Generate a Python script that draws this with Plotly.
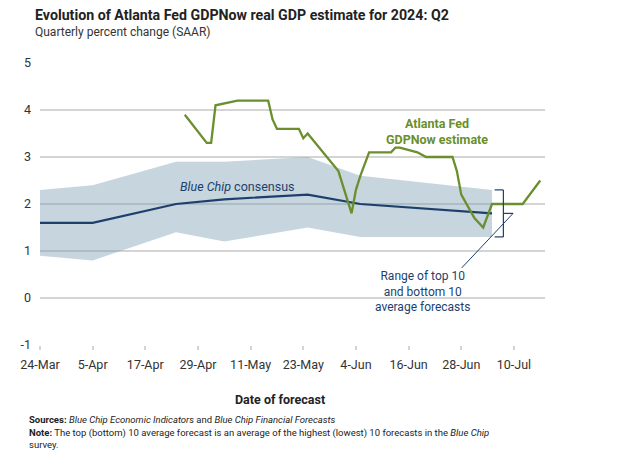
import plotly.graph_objects as go
from datetime import datetime, timedelta

# ---------------- data ----------------
bc_dates = ["2024-03-24", "2024-04-05", "2024-04-24", "2024-05-05",
            "2024-05-24", "2024-06-05", "2024-07-05"]
bc_consensus = [1.6, 1.6, 2.0, 2.1, 2.2, 2.0, 1.8]
bc_top10 = [2.3, 2.4, 2.9, 2.9, 3.0, 2.6, 2.3]
bc_bottom10 = [0.9, 0.8, 1.4, 1.2, 1.5, 1.3, 1.3]

gdpnow_dates = ["2024-04-26", "2024-05-01", "2024-05-02", "2024-05-03",
                "2024-05-08", "2024-05-15", "2024-05-16", "2024-05-17",
                "2024-05-22", "2024-05-23", "2024-05-24", "2024-05-31",
                "2024-06-03", "2024-06-04", "2024-06-05", "2024-06-07",
                "2024-06-12", "2024-06-13", "2024-06-14", "2024-06-18",
                "2024-06-20", "2024-06-26", "2024-06-27", "2024-06-28",
                "2024-07-01", "2024-07-03", "2024-07-05", "2024-07-12",
                "2024-07-16"]
gdpnow_values = [3.9, 3.3, 3.3, 4.1,
                 4.2, 4.2, 3.8, 3.6,
                 3.6, 3.4, 3.5, 2.7,
                 1.8, 2.3, 2.6, 3.1,
                 3.1, 3.2, 3.2, 3.1,
                 3.0, 3.0, 2.7, 2.2,
                 1.7, 1.5, 2.0, 2.0,
                 2.5]

y_ticks = [-1, 0, 1, 2, 3, 4, 5]
y_tick_labels = ["-1", "0", "1", "2", "3", "4", "5"]

# ---------------- style ----------------
GREEN = "#6A8F2C"
NAVY = "#1D3F6E"
BAND = "rgba(120,154,176,0.42)"
GRID = "#D4D4D4"
FONT = "Roboto, 'Open Sans', sans-serif"

OFF = 8  # page body margin
W, H = 640 - OFF, 453 - OFF
L, T = 40 - OFF, 63 - OFF
PW, PH = 505, 282
R, B = W - L - PW, H - T - PH


def px(x):
    return (x - OFF - L) / PW


def py(y):
    return (T + PH - (y - OFF)) / PH


fig = go.Figure()

# band: bottom then top filled
fig.add_trace(go.Scatter(x=bc_dates, y=bc_bottom10, mode="lines",
                         line=dict(width=0, color=BAND), showlegend=False,
                         hoverinfo="skip"))
fig.add_trace(go.Scatter(x=bc_dates, y=bc_top10, mode="lines",
                         line=dict(width=0, color=BAND), fill="tonexty",
                         fillcolor=BAND, showlegend=False, hoverinfo="skip"))
fig.add_trace(go.Scatter(x=bc_dates, y=bc_consensus, mode="lines",
                         line=dict(width=2.2, color=NAVY), showlegend=False))
fig.add_trace(go.Scatter(x=gdpnow_dates, y=gdpnow_values, mode="lines",
                         line=dict(width=2.3, color=GREEN), showlegend=False))

# bracket next to the end of the band
end = datetime.fromisoformat(bc_dates[-1])
d = lambda days: (end + timedelta(hours=days * 24)).strftime("%Y-%m-%d %H:%M:%S")
top, bot = bc_top10[-1], bc_bottom10[-1]
mid = (top + bot) / 2
bl = dict(color=NAVY, width=1.2)
fig.add_shape(type="line", x0=d(0.6), x1=d(2.6), y0=top, y1=top, line=bl)
fig.add_shape(type="line", x0=d(2.6), x1=d(2.6), y0=top, y1=bot, line=bl)
fig.add_shape(type="line", x0=d(0.6), x1=d(2.6), y0=bot, y1=bot, line=bl)
fig.add_shape(type="line", x0=d(2.6), x1=d(4.8), y0=mid, y1=mid, line=bl)
fig.add_shape(type="line", x0=d(4.8), x1=d(-6.9), y0=mid, y1=0.64,
              line=dict(color=NAVY, width=1))

fig.update_layout(
    width=W, height=H,
    margin=dict(l=L, r=R, t=T, b=B, pad=0),
    paper_bgcolor="white", plot_bgcolor="white",
    font=dict(family=FONT, size=12, color="#333333"),
    showlegend=False,
    xaxis=dict(
        type="date",
        range=["2024-03-24", "2024-07-17 02:00"],
        tick0="2024-03-24", dtick=12 * 86400000,
        tickformat="%-d-%b",
        showgrid=False, zeroline=False,
        showline=False,
        ticks="outside", ticklen=4, tickcolor=GRID, tickwidth=1.5,
        tickfont=dict(size=12.5, color="#333333"),
        ticklabelstandoff=4,
    ),
    yaxis=dict(
        range=[-1, 5], tickvals=y_ticks, ticktext=y_tick_labels,
        showgrid=True, gridcolor=GRID, gridwidth=1.5,
        zeroline=False, showline=False, ticks="",
        tickfont=dict(size=12.5, color="#333333"),
        ticklabelstandoff=8,
    ),
)

ann = []
ann.append(dict(text="<b>Evolution of Atlanta Fed GDPNow real GDP estimate for 2024: Q2</b>",
                x=px(33), y=py(15), xanchor="left", yanchor="middle",
                font=dict(size=14.2, color="#222222")))
ann.append(dict(text="Quarterly percent change (SAAR)",
                x=px(33), y=py(32), xanchor="left", yanchor="middle",
                font=dict(size=12, color="#333333")))
ann.append(dict(text="<b>Atlanta Fed<br>GDPNow estimate</b>",
                x=px(437), y=py(131), xanchor="center", yanchor="middle",
                font=dict(size=12.5, color=GREEN)))
ann.append(dict(text="<i>Blue Chip</i> consensus",
                x=px(237), y=py(186), xanchor="center", yanchor="middle",
                font=dict(size=12.5, color=NAVY)))
ann.append(dict(text="Range of top 10<br>and bottom 10<br>average forecasts",
                x=px(422), y=py(291.5), xanchor="center", yanchor="middle",
                font=dict(size=12, color=NAVY)))
ann.append(dict(text="<b>Date of forecast</b>",
                x=px(280), y=py(399), xanchor="center", yanchor="middle",
                font=dict(size=12.5, color="#222222")))
ann.append(dict(text="<b>Sources:</b> <i>Blue Chip Economic Indicators</i> and <i>Blue Chip Financial Forecasts</i>",
                x=px(27), y=py(419), xanchor="left", yanchor="middle",
                font=dict(size=9.5, color="#222222")))
ann.append(dict(text="<b>Note:</b> The top (bottom) 10 average forecast is an average of the highest (lowest) 10 forecasts in the <i>Blue Chip</i><br>survey.",
                x=px(27), y=py(438), xanchor="left", yanchor="middle", align="left",
                font=dict(size=9.5, color="#222222")))
for a in ann:
    a.update(xref="paper", yref="paper", showarrow=False)
fig.update_layout(annotations=ann)

fig.write_html("out.html")
